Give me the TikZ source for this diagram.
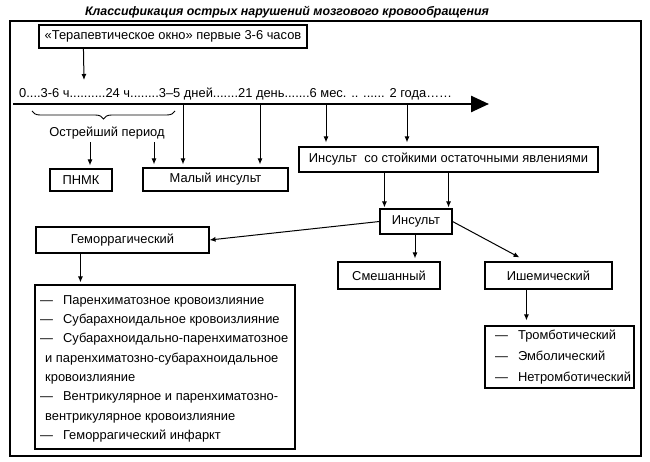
\documentclass[tikz,border=0pt]{standalone}
\usepackage{fontspec}
\setmainfont{Liberation Sans}
\usetikzlibrary{arrows.meta,decorations.pathreplacing,calc}
\begin{document}
\begin{tikzpicture}[x=1pt,y=-1pt,
  txt/.style={font=\fontsize{12.9}{14}\selectfont},
  box/.style={draw, line width=1.1pt, fill=white, inner sep=0pt, txt},
  arr/.style={line width=1pt, -{Latex[length=6pt,width=5pt]}},
  lbl/.style={inner sep=0pt, txt}]
\useasboundingbox (0,0) rectangle (650,462);
% title and frame
\node[inner sep=0pt, font=\fontsize{12.4}{14}\selectfont\bfseries\itshape] (title) at (287,12) {Классификация острых нарушений мозгового кровообращения};
\node[draw, line width=2pt, minimum width=631, minimum height=435, anchor=north west, inner sep=0pt] (frame) at (9,20) {};
% therapeutic window
\node[box, minimum width=268, minimum height=23] (term) at (173,36.5) {«Терапевтическое окно» первые 3-6 часов};
\coordinate (tw) at (84,80);
\draw[arr] ($(term.south west)+(45,0)$) -- (tw);
% timeline
\node[lbl, anchor=base west] (tltext) at (19,98) {0....3-6 ч..........24 ч........3–5 дней.......21 день.......6 мес. .. ...... 2 года……};
\coordinate (tlA) at (13,104);
\coordinate (tlB) at (489,104);
\draw[line width=2.5pt, -{Triangle[length=18pt,width=16pt]}] (tlA) -- (tlB);
\coordinate (k1) at (183,104);
\coordinate (k2) at (260,104);
\coordinate (k3) at (326,104);
\coordinate (k4) at (407,104);
% brace
\coordinate (bl) at (32,111);
\coordinate (br) at (175,111);
\draw[line width=0.9pt, decorate, decoration={brace, mirror, amplitude=8pt}] (bl) -- (br);
\node[lbl] (ostr) at (107,133) {Острейший период};
% boxes
\node[box, minimum width=62, minimum height=22] (pnmk) at (81,180) {ПНМК};
\node[box, minimum width=145, minimum height=23] (maly) at (215.5,179.5) {Малый инсульт};
\node[box, minimum width=299, minimum height=25] (stoyk) at (448.5,159.5) {Инсульт\ \ со стойкими остаточными явлениями};
\node[box, minimum width=72, minimum height=25] (insult) at (416,221.5) {Инсульт};
\node[box, minimum width=173, minimum height=26] (gem) at (122.5,240) {Геморрагический};
\node[box, minimum width=102, minimum height=27] (smesh) at (389,275.5) {Смешанный};
\node[box, minimum width=127, minimum height=27] (ishem) at (548.5,275.5) {Ишемический};
\node[box, minimum width=260, minimum height=164] (hlist) at (165,367) {};
\node[box, minimum width=149, minimum height=62] (ilist) at (559.5,357) {};
% list texts
\node[inner sep=0pt, anchor=north west, align=left, font=\fontsize{12.9}{19.3}\selectfont] (htext) at (40,294) {\rule{0pt}{10pt}—\hspace{10pt}Паренхиматозное кровоизлияние\\
—\hspace{10pt}Субарахноидальное кровоизлияние\\
—\hspace{10pt}Субарахноидально-паренхиматозное\\
\hspace{5pt}и паренхиматозно-субарахноидальное\\
\hspace{5pt}кровоизлияние\\
—\hspace{10pt}Вентрикулярное и паренхиматозно-\\
\hspace{5pt}вентрикулярное кровоизлияние\\
—\hspace{10pt}Геморрагический инфаркт};
\node[inner sep=0pt, anchor=north west, align=left, font=\fontsize{12.9}{21}\selectfont] (itext) at (495,329) {\rule{0pt}{10pt}—\hspace{10pt}Тромботический\\
—\hspace{10pt}Эмболический\\
—\hspace{10pt}Нетромботический};
% connectors from timeline
\draw[arr, shorten >=3pt] (k1) -- (k1 |- maly.north);
\draw[arr, shorten >=3pt] (k2) -- (k2 |- maly.north);
\draw[arr, shorten >=4pt] (k3) -- (k3 |- stoyk.north);
\draw[arr, shorten >=4pt] (k4) -- (k4 |- stoyk.north);
\draw[arr, shorten >=3pt] ($(ostr.south)+(-17,3)$) -- ($(ostr.south |- pnmk.north)+(-17,0)$);
\draw[arr, shorten >=3pt] ($(ostr.south)+(47,3)$) -- ($(ostr.south |- maly.north)+(47,0)$);
% lower connectors
\draw[arr, shorten >=1pt] ($(insult.north west |- stoyk.south)+(5,0)$) -- ($(insult.north west)+(5,0)$);
\draw[arr, shorten >=1pt] ($(insult.north east |- stoyk.south)+(-4,0)$) -- ($(insult.north east)+(-4,0)$);
\draw[arr] (insult.west) -- (gem.east);
\draw[arr, shorten >=3pt] ($(insult.south)+(-1,0)$) -- ($(insult.south |- smesh.north)+(-1,0)$);
\draw[arr] (insult.east) -- ($(ishem.north west)+(35,-4)$);
\draw[arr, shorten >=5pt] ($(ishem.south west)+(42,0)$) -- ($(ilist.north west)+(42,0)$);
\draw[arr, shorten >=2pt] ($(gem.south west)+(45,0)$) -- ($(hlist.north west)+(46,0)$);
\end{tikzpicture}
\end{document}
